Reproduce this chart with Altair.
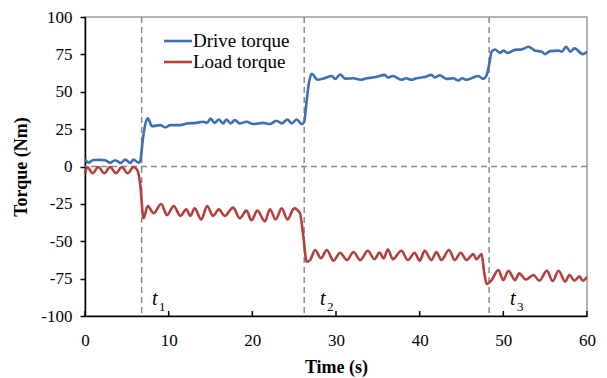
import altair as alt
import pandas as pd

series_names = ["Drive torque", "Load torque"]
series_colors = ["#3e6fb0", "#b2403d"]

drive_t = [0, 0.4, 1.0, 1.8, 2.4, 3.0, 3.6, 4.3, 4.8, 5.4, 5.8, 6.4, 6.6, 6.9, 7.2, 7.5,
           8.0, 9.0, 9.6, 10.2, 11.4, 12.2, 13.3, 14.1, 14.6, 15.0, 15.5, 16.0, 16.5, 16.9,
           17.4, 17.9, 18.5, 19.3, 20.1, 21.3, 22.1, 22.9, 23.5, 24.2, 24.7, 25.3, 25.9, 26.2,
           26.5, 26.8, 27.1, 27.8, 28.6, 29.5, 29.9, 30.5, 31.1, 32.1, 32.9, 33.7, 34.8, 35.8,
           36.2, 36.8, 37.8, 38.4, 39.0, 39.6, 40.6, 41.4, 41.8, 42.4, 43.2, 44.0, 44.6, 45.1,
           45.6, 47.0, 47.6, 48.0, 48.3, 48.6, 49.0, 49.6, 50.0, 50.5, 51.4, 52.2, 53.0, 53.8,
           54.6, 55.0, 55.6, 56.6, 57.0, 57.5, 58.0, 58.5, 59.5, 60.0]
drive_v = [4.8, 2.6, 4.3, 4.4, 4.2, 2.4, 4.2, 2.4, 4.6, 2.4, 4.6, 2.6, 3.5, 17.7, 28.0, 32.2,
           27.0, 27.7, 26.1, 27.7, 27.7, 28.8, 29.2, 29.9, 29.3, 32.0, 29.2, 31.4, 28.8, 31.4,
           28.8, 31.0, 28.8, 29.9, 28.4, 29.2, 28.4, 30.6, 28.8, 31.4, 28.8, 31.4, 28.4, 29.9,
           44.5, 57.0, 62.0, 58.0, 59.0, 60.5, 58.6, 61.5, 58.8, 59.0, 58.0, 59.0, 59.8, 61.3,
           59.5, 60.5, 58.0, 59.0, 58.0, 59.0, 59.8, 61.3, 59.5, 61.0, 58.6, 59.0, 57.5, 59.0,
           58.0, 60.5, 58.6, 61.0, 68.0, 76.8, 78.3, 76.0, 77.5, 76.0, 78.0, 78.3, 80.1, 77.5,
           76.8, 75.2, 77.2, 77.5, 76.8, 80.1, 76.8, 79.0, 75.2, 76.8]

load_t = [0, 0.3, 0.9, 1.6, 2.3, 3.0, 3.7, 4.4, 5.1, 5.8, 6.3, 6.6, 7.0, 7.5, 8.2, 9.1,
          9.8, 10.6, 11.4, 12.1, 12.6, 13.1, 13.9, 14.6, 15.3, 16.0, 16.7, 17.7, 18.5, 19.3,
          19.9, 20.6, 21.5, 22.1, 22.8, 23.5, 24.2, 25.0, 25.7, 26.1, 26.5, 26.9, 27.5, 28.2,
          28.9, 29.7, 30.5, 31.3, 32.1, 32.9, 33.8, 34.6, 35.2, 35.7, 36.2, 36.8, 37.8, 38.6,
          39.4, 40.0, 40.6, 41.4, 42.0, 42.6, 43.5, 44.2, 44.9, 45.6, 46.4, 46.8, 47.4, 47.7,
          48.0, 48.6, 49.4, 50.0, 50.6, 51.4, 51.9, 52.7, 53.6, 54.3, 55.2, 55.9, 56.6, 57.4,
          57.9, 58.5, 59.1, 59.5, 60.0]
load_v = [-4.5, -0.5, -4.5, -0.3, -4.5, -0.3, -4.5, -0.3, -4.5, -0.3, -3.0, -12.0, -34.6, -26.4, -31.3, -25.1,
          -32.5, -26.4, -33.0, -28.7, -33.0, -28.0, -35.4, -26.4, -33.0, -28.7, -33.0, -27.5, -34.6, -29.5,
          -36.0, -29.5, -36.7, -28.7, -35.4, -28.0, -35.4, -28.0, -31.3, -47.0, -63.7, -62.6, -55.9, -61.4,
          -55.9, -63.0, -57.7, -62.6, -57.2, -62.6, -56.4, -62.0, -57.5, -61.5, -55.5, -62.0, -56.4, -62.6,
          -57.7, -63.0, -56.4, -62.6, -57.2, -62.6, -55.9, -62.6, -57.7, -62.6, -58.6, -62.0, -58.6, -70.3,
          -78.6, -76.0, -69.2, -76.0, -69.7, -76.0, -71.5, -75.6, -72.6, -76.4, -69.7, -76.6, -69.7, -77.0,
          -72.6, -76.4, -73.5, -76.4, -73.9]

x_ticks = [0, 10, 20, 30, 40, 50, 60]
y_ticks = [-100, -75, -50, -25, 0, 25, 50, 75, 100]
event_times = [6.77, 26.2, 48.3]
event_label_x = [8.0, 28.1, 50.8]
event_main = ["t", "t", "t"]
event_subs = ["1", "2", "3"]
zero_level = [0]

W, H = 502, 299
FONT = "Liberation Serif"

df = pd.concat([
    pd.DataFrame({"t": drive_t, "v": drive_v, "series": series_names[0]}),
    pd.DataFrame({"t": load_t, "v": load_v, "series": series_names[1]}),
])
events = pd.DataFrame({"t": event_times})
zero_df = pd.DataFrame({"v": zero_level})
ticks_df = pd.DataFrame({"t": x_ticks})
labels_df = pd.DataFrame({"t": event_label_x, "main": event_main, "sub": event_subs})

x_scale = alt.Scale(domain=[0, 60], nice=False, zero=False)
y_scale = alt.Scale(domain=[-100, 100], nice=False)

x_axis = alt.Axis(values=x_ticks, title="Time (s)", ticks=False, labelPadding=16,
                  titlePadding=10, grid=False, domainColor="black", domainWidth=1.5,
                  labelFontSize=17, titleFontSize=18, titleFontWeight="bold",
                  labelColor="black", titleColor="black", labelFlush=False)
y_axis = alt.Axis(values=y_ticks, title="Torque (Nm)", tickSize=5, tickColor="black",
                  tickWidth=1.5, labelPadding=8, titlePadding=10, grid=False,
                  domainColor="black", domainWidth=1.5, labelFontSize=17,
                  titleFontSize=18, titleFontWeight="bold", labelColor="black",
                  titleColor="black", labelExpr="'' + datum.value")

vrules = alt.Chart(events).mark_rule(strokeDash=[6, 4], color="#8a8a8a", strokeWidth=1.5).encode(
    x=alt.X("t:Q", scale=x_scale, axis=x_axis))
hrule = alt.Chart(zero_df).mark_rule(strokeDash=[6, 4], color="#8a8a8a", strokeWidth=1.5).encode(
    y=alt.Y("v:Q", scale=y_scale, axis=y_axis))

lines = alt.Chart(df).mark_line(strokeWidth=2.6, interpolate="monotone").encode(
    x=alt.X("t:Q", scale=x_scale, axis=x_axis),
    y=alt.Y("v:Q", scale=y_scale, axis=y_axis),
    color=alt.Color("series:N", scale=alt.Scale(domain=series_names, range=series_colors),
                    legend=None),
)

inner_ticks = alt.Chart(ticks_df).mark_rule(color="black", strokeWidth=1.5).encode(
    x=alt.X("t:Q", scale=x_scale, axis=x_axis),
    y=alt.value(H), y2=alt.value(H - 5))

main_txt = alt.Chart(labels_df).mark_text(font=FONT, fontStyle="italic", fontSize=20,
                                          align="left", baseline="alphabetic", color="black").encode(
    x=alt.X("t:Q", scale=x_scale, axis=x_axis), y=alt.value(288), text="main:N")
sub_txt = alt.Chart(labels_df).mark_text(font=FONT, fontSize=13, align="left",
                                         baseline="alphabetic", dx=7, color="black").encode(
    x=alt.X("t:Q", scale=x_scale, axis=x_axis), y=alt.value(294), text="sub:N")

legend_layers = []
for i, (name, col) in enumerate(zip(series_names, series_colors)):
    leg_df = pd.DataFrame({"series": [name]})
    legend_layers.append(
        alt.Chart(leg_df).mark_rule(color=col, strokeWidth=2.6).encode(
            x=alt.value(79), x2=alt.value(107), y=alt.value(24 + 21 * i)))
    legend_layers.append(
        alt.Chart(leg_df).mark_text(font=FONT, fontSize=19, align="left", baseline="middle",
                                    color="black").encode(
            x=alt.value(108), y=alt.value(24 + 21 * i), text="series:N"))

chart = alt.layer(vrules, hrule, lines, inner_ticks, main_txt, sub_txt, *legend_layers).properties(
    width=W, height=H,
    autosize=alt.AutoSizeParams(type="none"),
    padding={"left": 77, "top": 9, "right": 12, "bottom": 62},
).configure_axis(labelFont=FONT, titleFont=FONT).configure_view(
    stroke="#9a9a9a", strokeWidth=1.5)

chart.save("out.html", embed_options={"renderer": "svg", "actions": False})
